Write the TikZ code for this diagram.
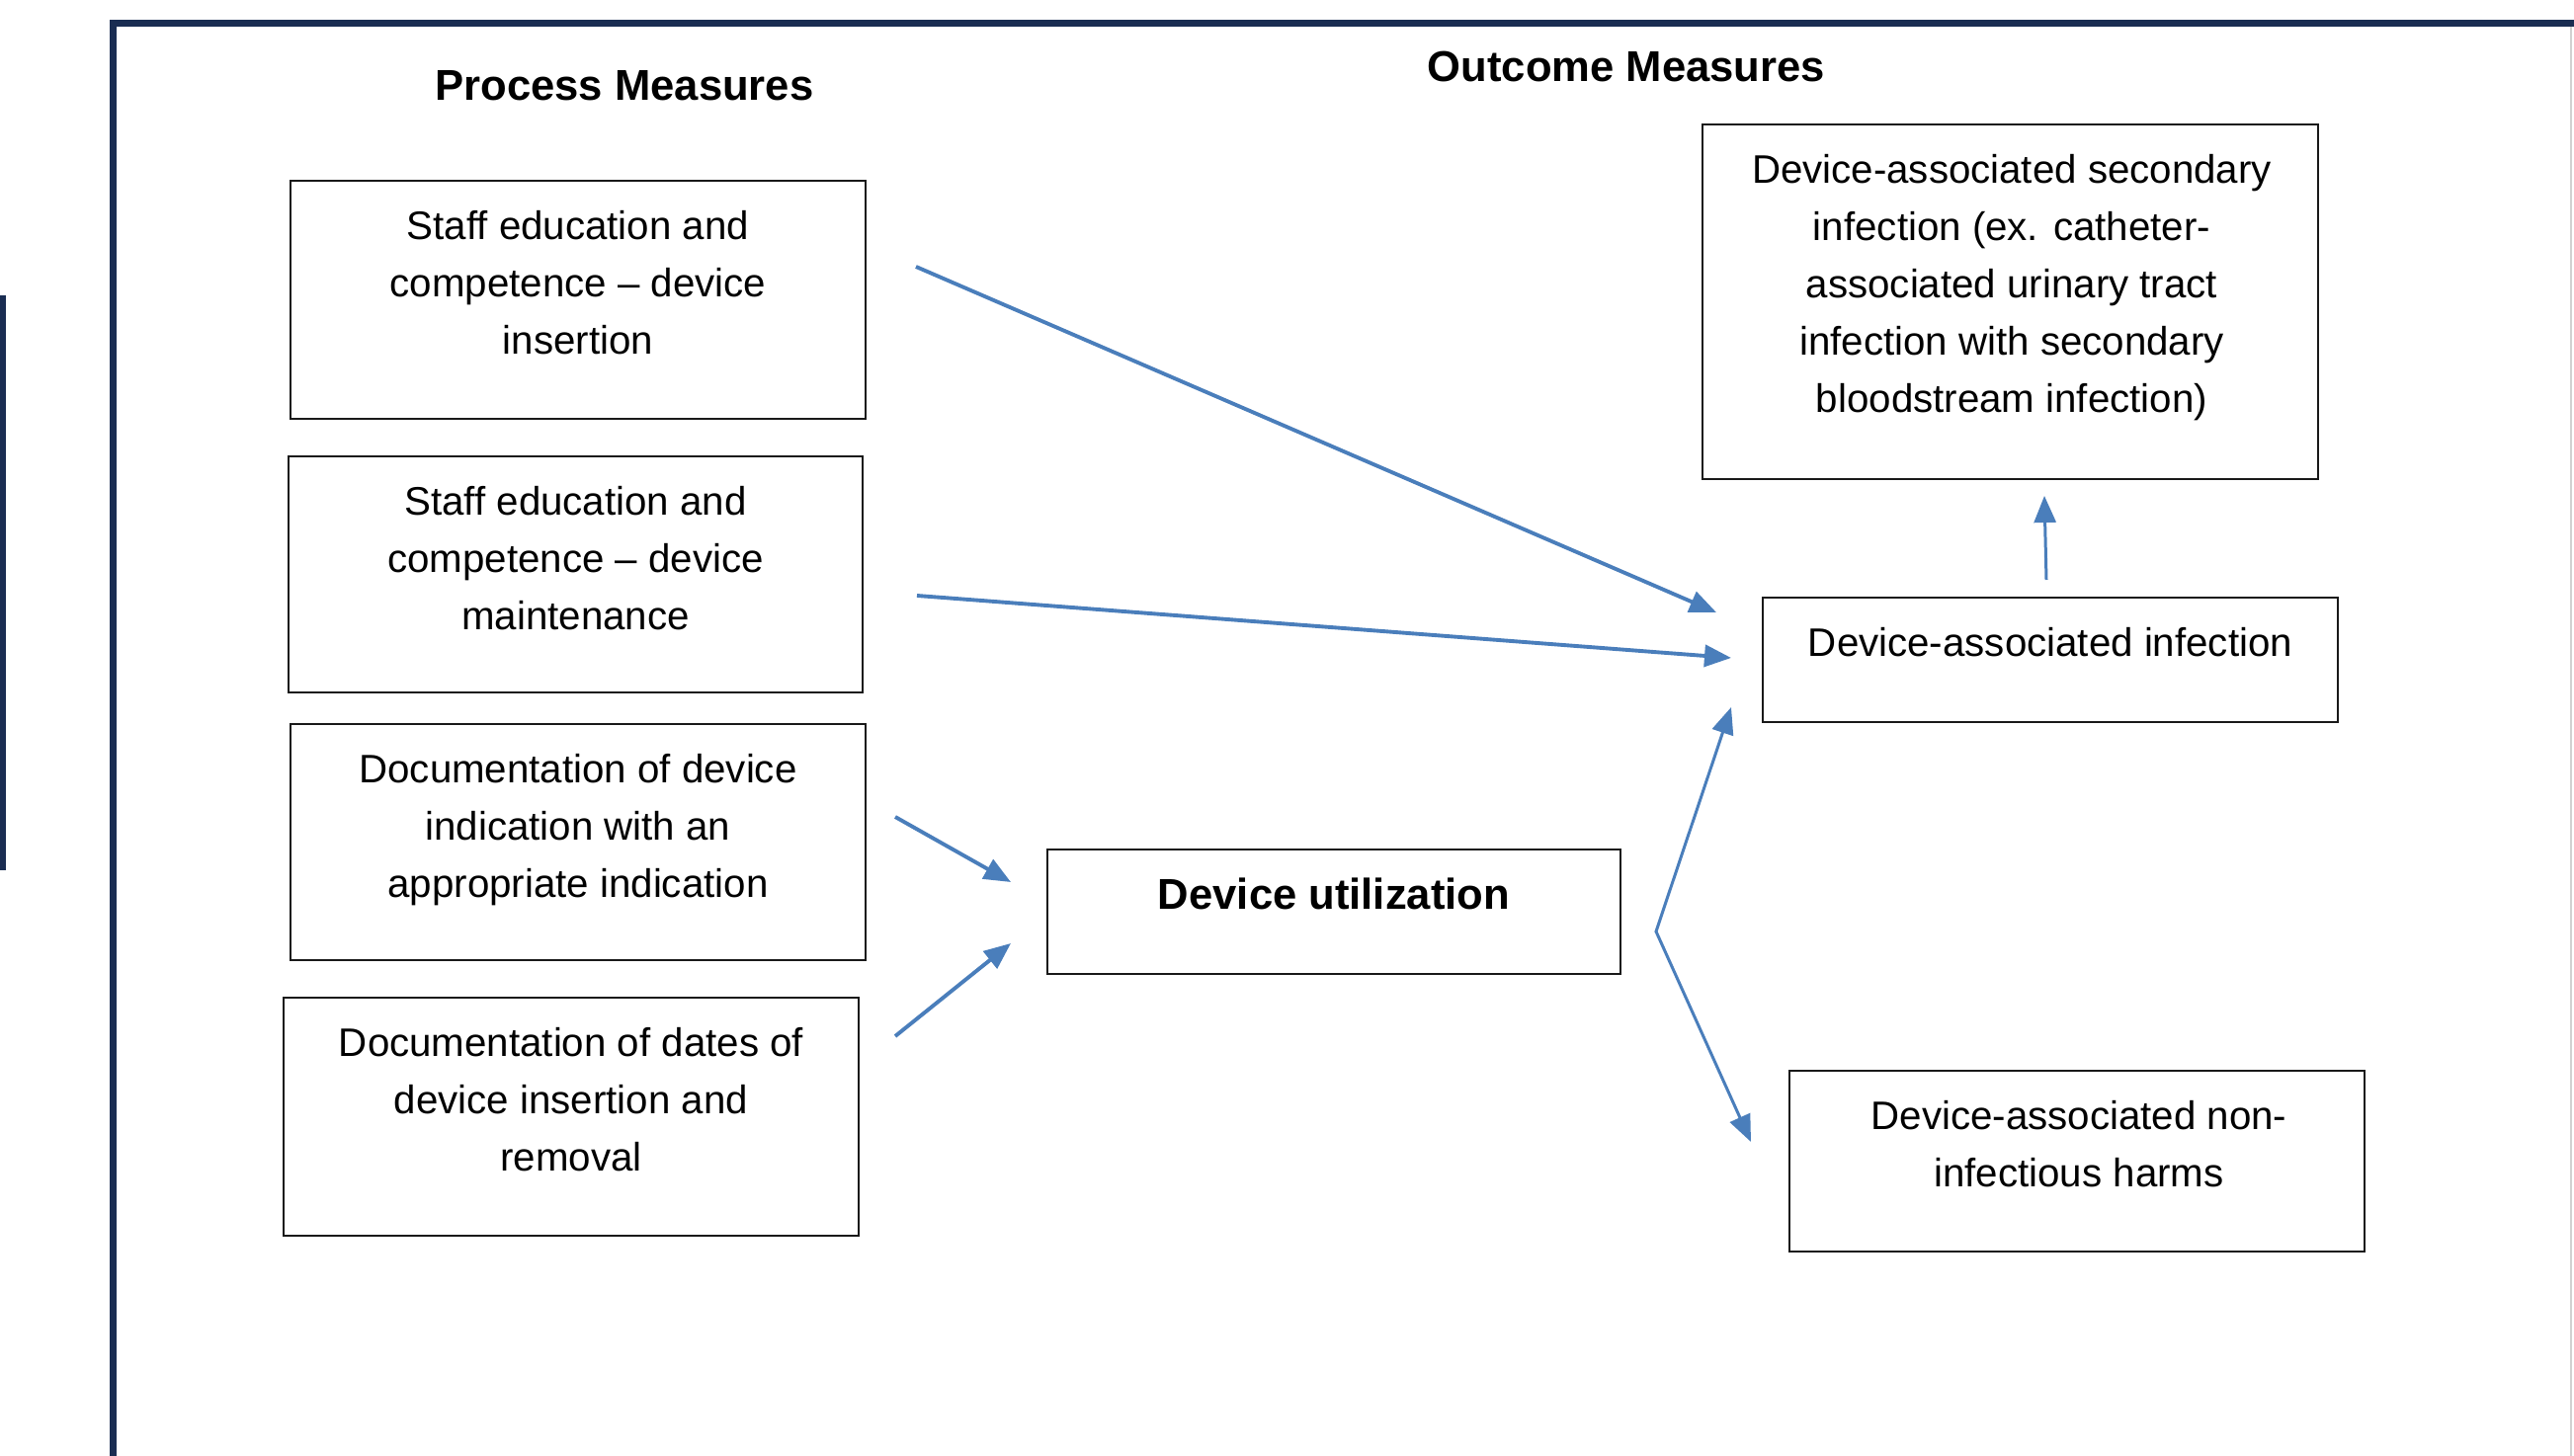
\documentclass[tikz,border=0pt]{standalone}
\usepackage{fontspec}
\setmainfont{Liberation Sans}
\usetikzlibrary{arrows.meta}
\definecolor{framenavy}{RGB}{26,45,82}
\definecolor{arrowblue}{RGB}{74,126,187}
\begin{document}
\begin{tikzpicture}[x=0.01cm,y=-0.01cm,
  box/.style={draw=black!90, line width=0.7pt, rectangle, inner sep=0pt, outer sep=0pt},
  boxtext/.style={anchor=north, align=center, inner sep=0pt, font=\fontsize{11.45pt}{16.5pt}\selectfont},
  boldtext/.style={align=center, inner sep=0pt, font=\fontsize{12.4pt}{16.5pt}\selectfont\bfseries},
  conn/.style={draw=arrowblue, line width=1.1pt, -{Triangle[length=0.27cm,width=0.22cm]}},
  thinconn/.style={draw=arrowblue, line width=0.85pt}]
\useasboundingbox (0,0) rectangle (2605,1474);
\clip (0,0) rectangle (2605,1474);
\fill[white] (0,0) rectangle (2605,1474);
% frame
\draw[framenavy, line width=0.07cm] (114.5,1520) -- (114.5,23.5) -- (2700,23.5);
\fill[framenavy] (0,299) rectangle (6,881);
\draw[black!18, line width=0.6pt] (2602,27) -- (2602,1520);
% titles
\node[boldtext, anchor=base] (tproc) at (632,102) {Process Measures};
\node[boldtext, anchor=base] (tout) at (1646,83) {Outcome Measures};
% process boxes
\node[box, minimum width=5.82cm, minimum height=2.41cm] (b1) at (585,303.5) {};
\node[boxtext] (b1t) at (585,213) {Staff education and\\competence \textendash{} device\\insertion};
\node[box, minimum width=5.81cm, minimum height=2.39cm] (b2) at (582.5,581.5) {};
\node[boxtext] (b2t) at (582.5,492) {Staff education and\\competence \textendash{} device\\maintenance};
\node[box, minimum width=5.82cm, minimum height=2.39cm] (b3) at (585,852.5) {};
\node[boxtext] (b3t) at (585,763) {Documentation of device\\indication with an\\appropriate indication};
\node[box, minimum width=5.82cm, minimum height=2.41cm] (b4) at (578,1130.5) {};
\node[boxtext] (b4t) at (578,1040) {Documentation of dates of\\device insertion and\\removal};
% device utilization
\node[box, minimum width=5.80cm, minimum height=1.26cm] (du) at (1350,923) {};
\node[boldtext, anchor=north] (dut) at (1350,888.5) {Device utilization};
% outcome boxes
\node[box, minimum width=6.23cm, minimum height=3.59cm] (sec) at (2034.5,305.5) {};
\node[boxtext] (sect) at (2036,156) {Device-associated secondary\\infection (ex. catheter-\\associated urinary tract\\infection with secondary\\bloodstream infection)};
\node[box, minimum width=5.82cm, minimum height=1.26cm] (inf) at (2075,668) {};
\node[boxtext] (inft) at (2075,635) {Device-associated infection};
\node[box, minimum width=5.82cm, minimum height=1.83cm] (non) at (2102,1175.5) {};
\node[boxtext] (nont) at (2104,1114) {Device-associated non-\\infectious harms};
% connector end points
\coordinate (a1s) at (927,270);  \coordinate (a1e) at (1737,620);
\coordinate (a2s) at (928,603);  \coordinate (a2e) at (1752,666);
\coordinate (a3s) at (906,827);  \coordinate (a3e) at (1023,893);
\coordinate (a4s) at (906,1049); \coordinate (a4e) at (1023,955);
\coordinate (a5v) at (1676,943); \coordinate (a5u) at (1752,716); \coordinate (a5d) at (1772,1156);
\coordinate (a6s) at (2071,587); \coordinate (a6e) at (2069,502);
% connectors
\draw[conn] (a1s) -- (a1e);
\draw[conn] (a2s) -- (a2e);
\draw[conn] (a3s) -- (a3e);
\draw[conn] (a4s) -- (a4e);
\draw[thinconn, {Triangle[length=0.27cm,width=0.22cm]}-{Triangle[length=0.27cm,width=0.22cm]}] (a5u) -- (a5v) -- (a5d);
\draw[conn, line width=0.85pt] (a6s) -- (a6e);
\end{tikzpicture}
\end{document}
